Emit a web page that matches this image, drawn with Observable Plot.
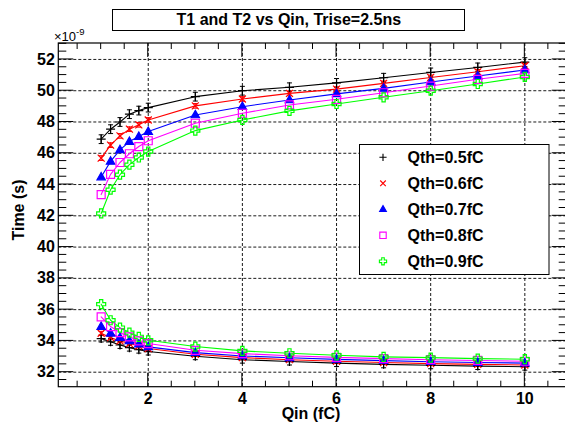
<!DOCTYPE html>
<html>
<head>
<meta charset="utf-8">
<script src="https://cdn.jsdelivr.net/npm/d3@7"></script>
<script src="https://cdn.jsdelivr.net/npm/@observablehq/plot@0.6"></script>
<style>
  html, body { margin: 0; padding: 0; background: #fff; }
  #chart { width: 565px; height: 422px; }
</style>
</head>
<body>
<div id="chart"></div>
<script>
// ---- data ----
const qin = [1, 1.2, 1.4, 1.6, 1.8, 2, 3, 4, 5, 6, 7, 8, 9, 10];
const seriesLabels = ["Qth=0.5fC", "Qth=0.6fC", "Qth=0.7fC", "Qth=0.8fC", "Qth=0.9fC"];
const seriesColors = ["#000000", "#ff0000", "#0000ff", "#ff00ff", "#00ff00"];

// upper branch (T2)
const t2_q05 = [46.9, 47.54, 48.0, 48.5, 48.73, 48.92, 49.62, 50.0, 50.22, 50.5, 50.83, 51.17, 51.49, 51.83];
const t2_q06 = [45.69, 46.52, 47.11, 47.54, 47.82, 48.13, 49.03, 49.47, 49.83, 50.1, 50.47, 50.85, 51.21, 51.6];
const t2_q07 = [44.48, 45.48, 46.22, 46.75, 47.07, 47.39, 48.45, 48.98, 49.41, 49.8, 50.15, 50.56, 50.94, 51.33];
const t2_q08 = [43.36, 44.65, 45.41, 45.97, 46.43, 46.8, 47.92, 48.56, 49.09, 49.45, 49.87, 50.3, 50.73, 51.11];
const t2_q09 = [42.15, 43.67, 44.63, 45.27, 45.73, 46.11, 47.45, 48.13, 48.71, 49.15, 49.58, 50.0, 50.43, 50.88];
// lower branch (T1)
const t1_q05 = [34.15, 33.94, 33.74, 33.57, 33.44, 33.32, 33.02, 32.8, 32.68, 32.58, 32.5, 32.44, 32.39, 32.35];
const t1_q06 = [34.49, 34.21, 34.0, 33.83, 33.68, 33.51, 33.15, 32.93, 32.8, 32.7, 32.62, 32.55, 32.5, 32.46];
const t1_q07 = [34.92, 34.49, 34.21, 34.0, 33.79, 33.62, 33.25, 33.04, 32.92, 32.82, 32.74, 32.67, 32.62, 32.58];
const t1_q08 = [35.54, 34.92, 34.53, 34.26, 34.0, 33.83, 33.4, 33.19, 33.05, 32.95, 32.87, 32.8, 32.75, 32.7];
const t1_q09 = [36.35, 35.32, 34.85, 34.53, 34.26, 34.04, 33.64, 33.36, 33.21, 33.08, 32.98, 32.93, 32.87, 32.83];
// error bar half-heights per series (0 = hidden under marker)
const err_t2 = [0.28, 0.15, 0.0, 0.0, 0.0];
const err_t1 = [0.22, 0.12, 0.0, 0.0, 0.0];

const xTicks = [2, 4, 6, 8, 10];
const yTicks = [32, 34, 36, 38, 40, 42, 44, 46, 48, 50, 52];

const t2Series = [t2_q05, t2_q06, t2_q07, t2_q08, t2_q09];
const t1Series = [t1_q05, t1_q06, t1_q07, t1_q08, t1_q09];

// ---- table ----
const rows = [];
seriesLabels.forEach((lab, s) => {
  qin.forEach((q, i) => {
    rows.push({x: q, y: t2Series[s][i], err: err_t2[s], series: lab, key: lab + "-T2"});
    rows.push({x: q, y: t1Series[s][i], err: err_t1[s], series: lab, key: lab + "-T1"});
  });
});
const errRows = rows.filter(d => d.err > 0);

// ---- custom ROOT-like marker symbols ----
const symPlus = {draw(c) { c.moveTo(-4.5, 0); c.lineTo(4.5, 0); c.moveTo(0, -4.5); c.lineTo(0, 4.5); }};
const symTimes = {draw(c) { c.moveTo(-3.5, -3.5); c.lineTo(3.5, 3.5); c.moveTo(-3.5, 3.5); c.lineTo(3.5, -3.5); }};
const symTri = {draw(c) { c.moveTo(0, -4.6); c.lineTo(4.2, 2.8); c.lineTo(-4.2, 2.8); c.closePath(); }};
const symSquare = {draw(c) { c.moveTo(-4, -4); c.lineTo(4, -4); c.lineTo(4, 4); c.lineTo(-4, 4); c.closePath(); }};
const symOCross = {draw(c) {
  const a = 1.6, b = 4.5;
  c.moveTo(-a, -b); c.lineTo(a, -b); c.lineTo(a, -a); c.lineTo(b, -a); c.lineTo(b, a); c.lineTo(a, a);
  c.lineTo(a, b); c.lineTo(-a, b); c.lineTo(-a, a); c.lineTo(-b, a); c.lineTo(-b, -a); c.lineTo(-a, -a); c.closePath();
}};
const symCap = {draw(c) { c.moveTo(-2.5, 0); c.lineTo(2.5, 0); }};
const symbols = [symPlus, symTimes, symTri, symSquare, symOCross];
const filled = [false, false, true, false, false];

const marks = [
  Plot.ruleX(xTicks, {stroke: "#000", strokeDasharray: "3,2", strokeWidth: 0.9}),
  Plot.ruleY(yTicks, {stroke: "#000", strokeDasharray: "3,2", strokeWidth: 0.9}),
  Plot.line(rows, {x: "x", y: "y", z: "key", stroke: "series", strokeWidth: 1.1}),
  Plot.ruleX(errRows, {x: "x", y1: d => d.y - d.err, y2: d => d.y + d.err, stroke: "series", strokeWidth: 1}),
  Plot.dot(errRows, {x: "x", y: d => d.y - d.err, symbol: symCap, stroke: "series", fill: "none", strokeWidth: 1}),
  Plot.dot(errRows, {x: "x", y: d => d.y + d.err, symbol: symCap, stroke: "series", fill: "none", strokeWidth: 1})
];
seriesLabels.forEach((lab, s) => {
  marks.push(Plot.dot(rows.filter(d => d.series === lab), {
    x: "x", y: "y", symbol: symbols[s],
    stroke: seriesColors[s], fill: filled[s] ? seriesColors[s] : "none", strokeWidth: 1.2
  }));
});

const plot = Plot.plot({
  width: 565,
  height: 422,
  marginLeft: 58.3,
  marginRight: -1.7,
  marginTop: 43,
  marginBottom: 35.3,
  style: {fontFamily: "'Liberation Sans', Arial, sans-serif", fontSize: "16px", fontWeight: "bold", background: "#fff", color: "#000"},
  x: {domain: [0.1, 10.9], ticks: xTicks, tickSize: 0, tickPadding: 5, label: null, tickFormat: d => String(d)},
  y: {domain: [31.04, 53.02], ticks: yTicks, tickSize: 0, tickPadding: 4, label: null, tickFormat: d => String(d)},
  color: {domain: seriesLabels, range: seriesColors},
  marks
});
document.getElementById("chart").appendChild(plot);

// ---- ROOT-like frame, inward ticks, titles, legend ----
const svg = d3.select(plot);
svg.style("overflow", "hidden");
const xs = plot.scale("x").apply, ys = plot.scale("y").apply;
const x0 = xs(0.1), x1 = xs(10.9), y0 = ys(31.04), y1 = ys(53.02);
const g = svg.append("g").attr("stroke", "#000").attr("fill", "none");
g.append("rect").attr("x", x0).attr("y", y1).attr("width", x1 - x0).attr("height", y0 - y1).attr("stroke-width", 1.2);
const xMinor = d3.range(0.5, 10.9, 0.5);
xMinor.forEach(v => {
  const major = xTicks.includes(v);
  const L = major ? 14 : 6;
  g.append("line").attr("x1", xs(v)).attr("x2", xs(v)).attr("y1", y0).attr("y2", y0 - L);
  g.append("line").attr("x1", xs(v)).attr("x2", xs(v)).attr("y1", y1).attr("y2", y1 + L);
});
const yMinor = d3.range(31.5, 53.01, 0.5);
yMinor.forEach(v => {
  const major = yTicks.includes(v);
  const L = major ? 15 : 8;
  g.append("line").attr("y1", ys(v)).attr("y2", ys(v)).attr("x1", x0).attr("x2", x0 + L);
  g.append("line").attr("y1", ys(v)).attr("y2", ys(v)).attr("x1", x1).attr("x2", x1 - L);
});

const font = "'Liberation Sans', Arial, sans-serif";
// title box
svg.append("rect").attr("x", 112.5).attr("y", 9.5).attr("width", 352).attr("height", 21)
  .attr("fill", "#fff").attr("stroke", "#000").attr("stroke-width", 1);
svg.append("text").attr("x", 288.8).attr("y", 25.3).attr("text-anchor", "middle")
  .attr("font-family", font).attr("font-size", 16).attr("font-weight", "bold")
  .text("T1 and T2 vs Qin, Trise=2.5ns");
// exponent
const ex = svg.append("text").attr("x", 54).attr("y", 40.5).attr("text-anchor", "start").attr("font-family", font)
  .attr("font-size", 13).attr("font-weight", "normal");
ex.append("tspan").text("\u00d710");
ex.append("tspan").attr("font-size", 9.5).attr("dy", -6).text("-9");
// axis titles
svg.append("text").attr("transform", "translate(18,210) rotate(-90)").attr("text-anchor", "middle")
  .attr("dominant-baseline", "central").attr("font-family", font).attr("font-size", 16).attr("font-weight", "bold")
  .text("Time (s)");
svg.append("text").attr("x", 311).attr("y", 419).attr("text-anchor", "middle")
  .attr("font-family", font).attr("font-size", 16).attr("font-weight", "bold").text("Qin (fC)");
// legend
svg.append("rect").attr("x", 359.5).attr("y", 144.5).attr("width", 189.5).attr("height", 130)
  .attr("fill", "#fff").attr("stroke", "#000").attr("stroke-width", 1);
seriesLabels.forEach((lab, s) => {
  const cy = 157.3 + 26 * s;
  const p = d3.path();
  symbols[s].draw(p, 0);
  svg.append("path").attr("transform", `translate(383,${cy}) scale(0.8)`).attr("d", p.toString())
    .attr("stroke", seriesColors[s]).attr("fill", filled[s] ? seriesColors[s] : "none").attr("stroke-width", 1.4);
  svg.append("text").attr("x", 407.5).attr("y", cy + 5.8).attr("text-anchor", "start").attr("font-family", font)
    .attr("font-size", 16).attr("font-weight", "bold").text(lab);
});
</script>
</body>
</html>
